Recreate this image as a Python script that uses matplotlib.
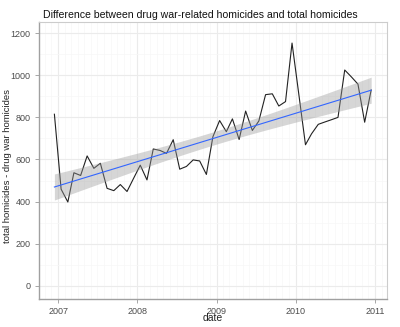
import numpy as np
import pandas as pd
import matplotlib
matplotlib.use("Agg")
import matplotlib.pyplot as plt
import matplotlib.dates as mdates
from matplotlib.ticker import MultipleLocator

plt.rcParams['font.family'] = ['Liberation Sans', 'DejaVu Sans']

# monthly values, Dec 2006 - Dec 2010
dates = pd.date_range("2006-12-01", periods=49, freq="MS") + pd.Timedelta(days=14)
diff = [815, 459, 398, 537, 524, 617, 558, 582, 463, 452, 481, 448,
        510, 573, 503, 650, 643, 629, 694, 554, 567, 598, 593, 529,
        708, 785, 732, 793, 695, 830, 738, 783, 908, 912, 854, 875,
        1153, 912, 670, 722, 767, 778, 789, 800, 1025, 992, 958, 777,
        930]
year_ticks = ["2007", "2008", "2009", "2010", "2011"]

x = mdates.date2num(dates.to_pydatetime())
y = np.array(diff, dtype=float)

# linear fit with 95% confidence band (like geom_smooth(method="lm"))
n = len(x)
b, a = np.polyfit(x, y, 1)
resid = y - (a + b * x)
s = np.sqrt(np.sum(resid ** 2) / (n - 2))
xs = np.linspace(x.min(), x.max(), 80)
se = s * np.sqrt(1 / n + (xs - x.mean()) ** 2 / np.sum((x - x.mean()) ** 2))
fit = a + b * xs
t = 2.012

fig = plt.figure(figsize=(4.0, 3.27), dpi=100)
ax = fig.add_axes([0.0975, 0.086, 0.87, 0.848])

ax.plot(x, y, color="#222222", lw=0.8, zorder=3)
ax.fill_between(xs, fit - t * se, fit + t * se, color="#999999", alpha=0.4, lw=0, zorder=4)
ax.plot(xs, fit, color="#3366FF", lw=0.8, zorder=5)

tick_pos = [mdates.date2num(pd.Timestamp(yr + "-01-01")) for yr in year_ticks]
ax.set_xticks(tick_pos)
ax.set_xticklabels(year_ticks)
ax.xaxis.set_minor_locator(mdates.MonthLocator())
ax.set_yticks(range(0, 1201, 200))
ax.yaxis.set_minor_locator(MultipleLocator(100))

ax.set_xlim(mdates.date2num(pd.Timestamp("2006-10-05")), mdates.date2num(pd.Timestamp("2011-02-26")))
ax.set_ylim(-62, 1255)

ax.grid(True, which="major", color="#ebebeb", lw=0.8, zorder=0)
ax.grid(True, which="minor", color="#f7f7f7", lw=0.5, zorder=0)
ax.set_axisbelow(True)

for side in ["top", "right"]:
    ax.spines[side].set_color("#cccccc")
    ax.spines[side].set_linewidth(0.8)
for side in ["left", "bottom"]:
    ax.spines[side].set_color("#a0a0a0")
    ax.spines[side].set_linewidth(1.0)

ax.tick_params(which="major", length=3, width=0.6, color="#999999",
               labelsize=6.5, labelcolor="#4d4d4d", pad=3)
ax.tick_params(which="minor", length=0)

ax.set_xlabel("date", fontsize=7.5, color="#222222", labelpad=-2)
ax.set_ylabel("total homicides - drug war homicides", fontsize=6.8, color="#222222")
ax.yaxis.set_label_coords(-0.078, 0.48)
fig.text(0.108, 0.955, "Difference between drug war-related homicides and total homicides",
         fontsize=7.55, color="#111111", va="center", ha="left")

fig.savefig("out.png", dpi=100)
